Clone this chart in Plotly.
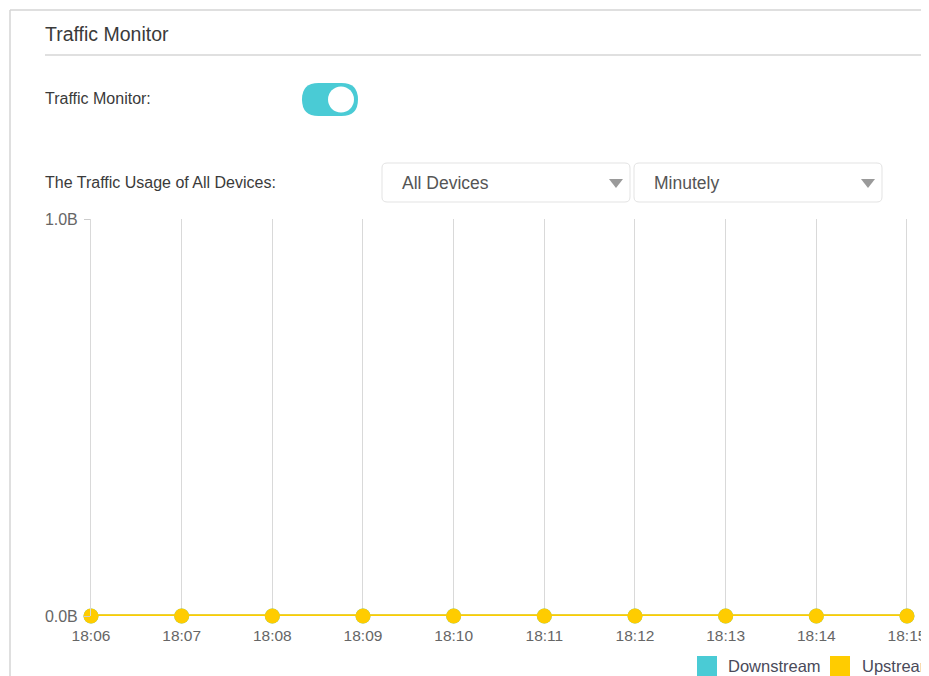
import plotly.graph_objects as go

# Data
minutes = ['18:06', '18:07', '18:08', '18:09', '18:10',
           '18:11', '18:12', '18:13', '18:14', '18:15']
downstream = [0, 0, 0, 0, 0, 0, 0, 0, 0, 0]
upstream = [0, 0, 0, 0, 0, 0, 0, 0, 0, 0]
y_ticks = [0, 1]
y_tick_labels = ['0.0B', '1.0B']

# the page body keeps an 8px margin, so the figure is drawn 8px in
OFF = 8
W, H = 929, 676
FONT = 'Arial, Liberation Sans, sans-serif'
TEAL = '#4ACBD5'
YELLOW = '#FFCC00'


def px(x):
    return (x - OFF) / W


def py(y):
    return 1 - (y - OFF) / H


def rrect(x0, y0, x1, y1, r):
    # rounded rectangle path in paper coords, built from pixel values
    pts = [
        ('M', (x0 + r, y0)), ('L', (x1 - r, y0)), ('Q', (x1, y0), (x1, y0 + r)),
        ('L', (x1, y1 - r)), ('Q', (x1, y1), (x1 - r, y1)),
        ('L', (x0 + r, y1)), ('Q', (x0, y1), (x0, y1 - r)),
        ('L', (x0, y0 + r)), ('Q', (x0, y0), (x0 + r, y0)),
    ]
    s = ''
    for p in pts:
        s += p[0] + ' ' + ' '.join('%f,%f' % (px(a), py(b)) for a, b in p[1:]) + ' '
    return s + 'Z'


fig = go.Figure()
fig.add_trace(go.Scatter(x=minutes, y=downstream, name='Downstream',
                         mode='lines+markers', cliponaxis=False,
                         line=dict(color=TEAL, width=3),
                         marker=dict(color=TEAL, size=15)))
fig.add_trace(go.Scatter(x=minutes, y=upstream, name='Upstream',
                         mode='lines+markers', cliponaxis=False,
                         line=dict(color=YELLOW, width=3.5),
                         marker=dict(color=YELLOW, size=15)))

shapes = []
# page frame
shapes.append(dict(type='line', xref='paper', yref='paper', x0=px(10), x1=px(10),
                   y0=py(10), y1=py(684), line=dict(color='#d4d4d4', width=1.5)))
shapes.append(dict(type='line', xref='paper', yref='paper', x0=px(10), x1=px(937),
                   y0=py(10), y1=py(10), line=dict(color='#d4d4d4', width=1.5)))
# title underline
shapes.append(dict(type='line', xref='paper', yref='paper', x0=px(45), x1=px(937),
                   y0=py(55), y1=py(55), line=dict(color='#d6d6d6', width=1.5)))
# toggle switch
shapes.append(dict(type='path', xref='paper', yref='paper',
                   path=rrect(302, 83, 358, 116, 16.5),
                   fillcolor=TEAL, line=dict(width=0)))
shapes.append(dict(type='circle', xref='paper', yref='paper',
                   x0=px(328), x1=px(354), y0=py(86.5), y1=py(112.5),
                   fillcolor='white', line=dict(width=0)))
# dropdowns
for x0, x1 in [(382, 630), (634, 882)]:
    shapes.append(dict(type='path', xref='paper', yref='paper',
                       path=rrect(x0, 163, x1, 202, 5),
                       fillcolor='white', line=dict(color='#e3e3e3', width=1)))
    tx = x1 - 14
    shapes.append(dict(type='path', xref='paper', yref='paper',
                       path='M %f,%f L %f,%f L %f,%f Z' % (px(tx - 7), py(179), px(tx + 7), py(179),
                                                        px(tx), py(188)),
                       fillcolor='#9a9a9a', line=dict(width=0)))
# legend squares
for x0, col in [(697, TEAL), (830, YELLOW)]:
    shapes.append(dict(type='rect', xref='paper', yref='paper',
                       x0=px(x0), x1=px(x0 + 20), y0=py(656), y1=py(676),
                       fillcolor=col, line=dict(width=0)))

annotations = []


def label(text, x, y, size=14, color='#333333'):
    annotations.append(dict(text=text, x=px(x), y=py(y), xref='paper', yref='paper',
                            xanchor='left', yanchor='middle', showarrow=False,
                            font=dict(family=FONT, size=size, color=color)))


label('Traffic Monitor', 43, 34, size=19.5, color='#3a3a3a')
label('Traffic Monitor:', 43, 99, size=16, color='#3a3a3a')
label('The Traffic Usage of All Devices:', 43, 183, size=16, color='#3a3a3a')
label('All Devices', 400, 183, size=17.5, color='#555555')
label('Minutely', 652, 183, size=17.5, color='#555555')
label('Downstream', 726, 666, size=16.5, color='#4a4a5a')
label('Upstream', 860, 666, size=16.5, color='#4a4a5a')

fig.update_layout(
    width=W, height=H,
    margin=dict(l=0, r=0, t=0, b=0, pad=0, autoexpand=False),
    paper_bgcolor='white', plot_bgcolor='white',
    showlegend=False,
    shapes=shapes, annotations=annotations,
    font=dict(family=FONT, size=14, color='#666666'),
    xaxis=dict(domain=[px(91), px(929)], range=[0, 9.243], showgrid=True,
               automargin=False,
               gridcolor='#d9d9d9', gridwidth=1, zeroline=False,
               showline=False, ticks='', tickfont=dict(size=15.5, color='#666666'),
               ticklabelstandoff=8),
    yaxis=dict(domain=[py(616), py(219)], range=[0, 1],
               automargin=False,
               tickvals=y_ticks, ticktext=y_tick_labels,
               showgrid=True, gridcolor='#d0d0d0', zeroline=False,
               showline=True, linecolor='#d9d9d9', ticks='outside', ticklen=6,
               tickcolor='#cccccc', ticklabelstandoff=3,
               tickfont=dict(size=16, color='#666666')),
)

fig.write_html('out.html')
